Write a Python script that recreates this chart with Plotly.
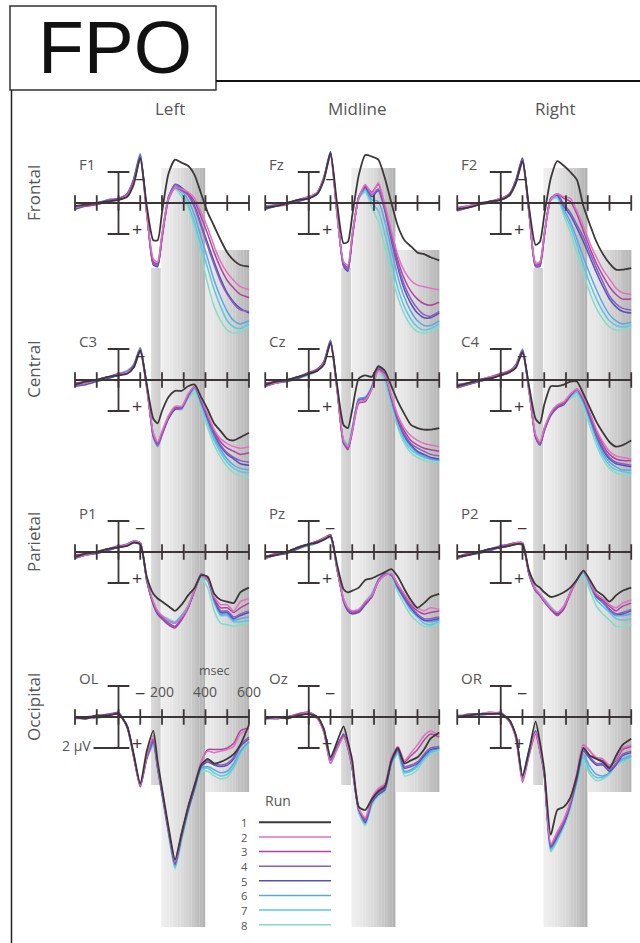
import plotly.graph_objects as go

W, H = 640, 943

# ---------------- data ----------------
T_MS = [-200, -150, -100, -50, 0, 40, 70, 100, 130, 160, 180, 200, 230, 260, 290,
        320, 350, 380, 410, 440, 470, 500, 530, 560, 600]
RUN_LABELS = ["1", "2", "3", "4", "5", "6", "7", "8"]
RUN_COLORS = ["#3d3838", "#e072c4", "#b0449c", "#8a5cc4", "#5450b8",
              "#5aa8e2", "#5cc6e6", "#84dcc6"]
COL_TITLES = ["Left", "Midline", "Right"]
ROW_TITLES = ["Frontal", "Central", "Parietal", "Occipital"]
ELECTRODES = [["F1", "Fz", "F2"], ["C3", "Cz", "C4"], ["P1", "Pz", "P2"], ["OL", "Oz", "OR"]]
TICK_MS = [-200, -100, 0, 100, 200, 300, 400, 500, 600]
TIME_LABELS = [200, 400, 600]
BAR_UV = 2

# amplitudes in microvolts (positive plotted downward), one list per run 1..8
F1 = [
    [0.2, 0.1, 0.0, -0.1, -0.2, -0.4, -1.2, -2.9, 0.2, 2.4, 2.4, 0.6, -1.9, -2.8, -2.6, -2.4, -1.8, -0.6, 0.6, 1.5, 2.4, 3.2, 3.7, 4.0, 4.1],
    [0.3, 0.1, 0.0, -0.1, -0.2, -0.5, -1.3, -2.8, 0.8, 3.6, 3.8, 2.0, -0.3, -1.0, -0.9, -0.7, -0.3, 0.6, 1.6, 2.8, 3.8, 4.5, 5.0, 5.4, 5.6],
    [0.2, 0.2, 0.1, -0.1, -0.3, -0.5, -1.4, -2.9, 0.7, 3.8, 3.9, 2.1, -0.2, -1.0, -0.8, -0.6, -0.1, 0.9, 2.0, 3.2, 4.2, 5.0, 5.5, 5.9, 6.1],
    [0.3, 0.2, 0.0, -0.2, -0.3, -0.6, -1.5, -3.0, 0.6, 3.9, 4.0, 2.2, -0.4, -1.2, -0.9, -0.5, 0.3, 1.5, 2.8, 4.0, 5.1, 5.9, 6.5, 6.9, 7.0],
    [0.4, 0.2, 0.1, -0.1, -0.2, -0.6, -1.5, -3.1, 0.5, 4.0, 4.1, 2.3, -0.3, -1.2, -1.0, -0.6, 0.2, 1.4, 2.6, 3.8, 4.9, 5.8, 6.4, 6.8, 7.1],
    [0.3, 0.2, 0.0, -0.2, -0.3, -0.6, -1.6, -3.2, 0.5, 3.9, 4.0, 2.2, -0.4, -1.1, -0.8, -0.2, 0.8, 2.2, 3.6, 5.0, 6.1, 7.0, 7.6, 7.8, 7.6],
    [0.2, 0.1, 0.0, -0.1, -0.3, -0.5, -1.5, -3.1, 0.6, 3.8, 4.0, 2.1, -0.4, -1.0, -0.6, 0.1, 1.3, 2.8, 4.2, 5.6, 6.7, 7.6, 8.0, 8.1, 7.8],
    [0.3, 0.2, 0.1, -0.1, -0.2, -0.5, -1.4, -3.0, 0.7, 3.7, 3.8, 2.0, -0.3, -0.9, -0.4, 0.3, 1.6, 3.4, 5.2, 6.7, 7.6, 8.2, 8.4, 8.3, 8.0],
]
FZ = [
    [0.3, 0.2, 0.0, -0.2, -0.3, -0.6, -1.5, -3.2, 0.0, 2.6, 2.5, 0.8, -1.8, -3.1, -3.0, -2.8, -1.6, 0.0, 1.5, 2.4, 2.8, 3.2, 3.3, 3.5, 3.7],
    [0.3, 0.2, 0.0, -0.2, -0.4, -0.7, -1.6, -3.0, 0.8, 3.8, 4.0, 2.0, -0.3, -1.2, -0.6, -1.3, 0.1, 1.8, 3.4, 4.4, 5.0, 5.3, 5.4, 5.5, 5.6],
    [0.2, 0.2, 0.1, -0.2, -0.4, -0.7, -1.7, -3.1, 0.7, 3.9, 4.2, 2.1, -0.3, -1.1, -0.7, -1.2, 0.2, 2.0, 3.7, 4.9, 5.7, 6.2, 6.5, 6.6, 6.4],
    [0.3, 0.1, 0.0, -0.2, -0.3, -0.7, -1.6, -3.2, 0.6, 4.0, 4.3, 2.2, -0.4, -1.1, -0.5, -0.9, 0.4, 2.2, 4.0, 5.3, 6.2, 6.8, 7.2, 7.3, 7.0],
    [0.4, 0.2, 0.0, -0.1, -0.3, -0.6, -1.6, -3.3, 0.5, 4.1, 4.4, 2.3, -0.4, -1.0, -0.4, -0.8, 0.5, 2.4, 4.2, 5.6, 6.5, 7.1, 7.4, 7.4, 7.1],
    [0.3, 0.2, 0.0, -0.2, -0.4, -0.7, -1.7, -3.3, 0.5, 4.0, 4.2, 2.2, -0.4, -0.9, -0.2, -0.1, 1.2, 3.0, 4.8, 6.1, 7.0, 7.6, 7.9, 7.9, 7.6],
    [0.2, 0.1, 0.0, -0.2, -0.3, -0.6, -1.6, -3.2, 0.6, 3.9, 4.1, 2.1, -0.3, -0.8, 0.0, 0.5, 2.0, 3.8, 5.5, 6.7, 7.5, 8.0, 8.2, 8.1, 7.8],
    [0.3, 0.2, 0.1, -0.1, -0.3, -0.6, -1.5, -3.1, 0.7, 3.8, 4.0, 2.0, -0.3, -0.7, 0.3, 1.2, 2.9, 4.6, 6.1, 7.2, 7.9, 8.3, 8.4, 8.3, 8.0],
]
F2 = [
    [0.4, 0.3, 0.1, -0.1, -0.2, -0.5, -1.3, -2.7, 0.3, 2.7, 2.5, 0.8, -1.6, -2.7, -2.4, -2.0, -1.5, 0.2, 1.4, 2.5, 3.3, 3.9, 4.3, 4.3, 4.2],
    [0.4, 0.2, 0.1, -0.1, -0.3, -0.5, -1.3, -2.6, 0.7, 3.9, 3.8, 2.0, -0.2, -0.6, -0.4, -0.3, 0.5, 1.5, 2.6, 3.5, 4.3, 4.9, 5.5, 5.8, 5.9],
    [0.3, 0.2, 0.0, -0.1, -0.3, -0.6, -1.4, -2.7, 0.6, 4.0, 3.9, 2.1, -0.2, -0.6, -0.3, -0.1, 0.7, 1.8, 2.9, 3.9, 4.7, 5.4, 5.9, 6.2, 6.2],
    [0.5, 0.3, 0.1, -0.1, -0.2, -0.6, -1.4, -2.8, 0.6, 4.1, 4.0, 2.1, -0.3, -0.6, 0.1, 0.6, 1.4, 2.2, 3.2, 4.2, 5.1, 6.0, 6.5, 6.8, 6.9],
    [0.5, 0.3, 0.1, 0.0, -0.2, -0.5, -1.5, -2.9, 0.5, 4.1, 4.1, 2.2, -0.3, -0.5, 0.2, 0.8, 1.6, 2.5, 3.5, 4.5, 5.4, 6.2, 6.7, 7.0, 7.1],
    [0.4, 0.2, 0.1, -0.1, -0.3, -0.6, -1.5, -2.9, 0.5, 4.0, 4.0, 2.1, -0.3, -0.5, 0.4, 1.2, 2.3, 3.5, 4.6, 5.6, 6.5, 7.2, 7.6, 7.8, 7.7],
    [0.3, 0.2, 0.0, -0.1, -0.2, -0.5, -1.4, -2.8, 0.6, 3.9, 3.9, 2.0, -0.2, -0.4, 0.6, 1.5, 2.7, 4.0, 5.2, 6.2, 7.0, 7.6, 7.9, 8.0, 7.9],
    [0.4, 0.3, 0.1, 0.0, -0.2, -0.5, -1.3, -2.7, 0.7, 3.8, 3.8, 1.9, -0.2, -0.3, 0.8, 1.9, 3.2, 4.6, 5.8, 6.8, 7.5, 8.0, 8.2, 8.2, 8.0],
]
C3 = [
    [0.3, 0.1, 0.0, -0.2, -0.3, -0.4, -0.8, -1.9, 0.3, 2.5, 2.8, 2.0, 1.1, 0.7, 0.7, 0.4, 0.3, 1.1, 1.9, 2.8, 3.3, 3.8, 3.9, 3.7, 3.4],
    [0.3, 0.2, 0.0, -0.2, -0.3, -0.5, -0.8, -1.8, 0.6, 3.4, 4.0, 3.3, 2.3, 1.7, 1.7, 0.9, 0.4, 1.2, 2.2, 3.2, 3.8, 4.1, 4.3, 4.4, 4.3],
    [0.2, 0.1, 0.0, -0.2, -0.3, -0.5, -0.9, -1.9, 0.5, 3.5, 4.1, 3.4, 2.4, 1.8, 1.8, 1.0, 0.4, 1.3, 2.3, 3.3, 4.0, 4.4, 4.6, 4.8, 4.7],
    [0.4, 0.2, 0.0, -0.2, -0.4, -0.5, -0.9, -2.0, 0.4, 3.6, 4.2, 3.5, 2.4, 1.8, 1.8, 1.0, 0.4, 1.3, 2.4, 3.4, 4.2, 4.7, 5.0, 5.2, 5.3],
    [0.4, 0.3, 0.1, -0.1, -0.3, -0.5, -0.9, -2.0, 0.4, 3.6, 4.2, 3.5, 2.5, 1.9, 1.8, 1.0, 0.4, 1.4, 2.5, 3.5, 4.3, 4.8, 5.1, 5.4, 5.5],
    [0.3, 0.2, 0.0, -0.2, -0.4, -0.6, -1.0, -2.1, 0.3, 3.7, 4.3, 3.6, 2.5, 1.9, 1.9, 1.1, 0.5, 1.5, 2.6, 3.7, 4.5, 5.1, 5.5, 5.7, 5.8],
    [0.3, 0.1, 0.0, -0.2, -0.3, -0.5, -1.0, -2.0, 0.3, 3.6, 4.2, 3.5, 2.4, 1.8, 1.8, 1.1, 0.6, 1.6, 2.8, 3.9, 4.7, 5.3, 5.7, 5.9, 6.0],
    [0.3, 0.2, 0.1, -0.1, -0.3, -0.5, -0.9, -1.9, 0.4, 3.5, 4.1, 3.4, 2.3, 1.7, 1.7, 1.2, 0.8, 1.9, 3.1, 4.2, 5.0, 5.6, 6.0, 6.2, 6.3],
]
CZ = [
    [0.3, 0.1, 0.0, -0.2, -0.4, -0.6, -1.0, -2.4, 0.3, 2.9, 3.1, 1.9, -0.1, -0.3, -0.2, -0.9, -0.6, 0.4, 1.4, 2.2, 2.9, 3.1, 3.2, 3.2, 3.1],
    [0.3, 0.2, 0.0, -0.2, -0.4, -0.6, -1.1, -2.3, 0.7, 3.9, 4.3, 3.3, 1.4, 1.3, 0.6, -0.6, -0.3, 1.0, 2.3, 3.1, 3.6, 3.9, 4.1, 4.2, 4.3],
    [0.2, 0.1, 0.0, -0.2, -0.4, -0.7, -1.1, -2.4, 0.6, 4.0, 4.5, 3.4, 1.5, 1.4, 0.6, -0.7, -0.3, 1.1, 2.5, 3.3, 3.9, 4.2, 4.4, 4.5, 4.6],
    [0.4, 0.2, 0.0, -0.2, -0.5, -0.7, -1.2, -2.5, 0.5, 4.0, 4.4, 3.3, 1.3, 1.2, 0.5, -0.8, -0.4, 1.2, 2.6, 3.5, 4.1, 4.4, 4.6, 4.8, 4.9],
    [0.4, 0.2, 0.1, -0.1, -0.4, -0.6, -1.2, -2.5, 0.5, 4.1, 4.4, 3.3, 1.3, 1.2, 0.5, -0.8, -0.4, 1.2, 2.6, 3.6, 4.2, 4.6, 4.8, 5.0, 5.1],
    [0.3, 0.2, 0.0, -0.2, -0.4, -0.7, -1.2, -2.6, 0.4, 4.0, 4.3, 3.2, 1.2, 1.1, 0.4, -0.9, -0.3, 1.3, 2.7, 3.7, 4.3, 4.7, 4.9, 5.1, 5.2],
    [0.3, 0.1, 0.0, -0.2, -0.4, -0.6, -1.1, -2.5, 0.5, 3.9, 4.2, 3.1, 1.2, 1.1, 0.5, -0.7, -0.1, 1.5, 2.9, 3.9, 4.5, 4.8, 5.0, 5.1, 5.2],
    [0.3, 0.2, 0.1, -0.1, -0.3, -0.6, -1.1, -2.4, 0.6, 3.8, 4.1, 3.0, 1.3, 1.2, 0.6, -0.5, 0.1, 1.7, 3.1, 4.1, 4.7, 5.0, 5.2, 5.3, 5.3],
]
C4 = [
    [0.4, 0.2, 0.0, -0.1, -0.3, -0.5, -0.8, -1.8, 0.4, 2.5, 2.8, 1.6, 0.4, 0.4, 0.3, 0.1, 0.1, 0.9, 1.8, 2.7, 3.4, 4.0, 4.3, 4.2, 3.9],
    [0.4, 0.2, 0.0, -0.2, -0.3, -0.5, -0.9, -1.7, 0.8, 3.5, 4.0, 3.1, 2.1, 1.6, 1.4, 0.9, 0.6, 1.1, 2.1, 3.2, 4.0, 4.6, 4.9, 5.0, 5.1],
    [0.3, 0.2, 0.0, -0.2, -0.4, -0.6, -0.9, -1.8, 0.7, 3.6, 4.1, 3.2, 2.2, 1.7, 1.5, 1.0, 0.6, 1.2, 2.2, 3.3, 4.2, 4.8, 5.1, 5.2, 5.2],
    [0.5, 0.3, 0.1, -0.1, -0.3, -0.5, -0.9, -1.9, 0.6, 3.7, 4.2, 3.3, 2.2, 1.7, 1.5, 1.0, 0.6, 1.2, 2.3, 3.5, 4.4, 5.0, 5.3, 5.4, 5.5],
    [0.5, 0.3, 0.1, -0.1, -0.3, -0.5, -1.0, -1.9, 0.6, 3.7, 4.2, 3.3, 2.3, 1.8, 1.6, 1.0, 0.6, 1.3, 2.4, 3.6, 4.5, 5.1, 5.4, 5.5, 5.6],
    [0.4, 0.2, 0.0, -0.2, -0.4, -0.6, -1.0, -2.0, 0.5, 3.6, 4.1, 3.2, 2.2, 1.7, 1.5, 1.0, 0.7, 1.4, 2.5, 3.7, 4.7, 5.3, 5.6, 5.8, 5.8],
    [0.4, 0.2, 0.1, -0.1, -0.3, -0.5, -0.9, -1.9, 0.6, 3.6, 4.1, 3.2, 2.2, 1.7, 1.5, 1.1, 0.8, 1.5, 2.7, 3.9, 4.9, 5.5, 5.8, 5.9, 6.0],
    [0.3, 0.2, 0.1, -0.1, -0.3, -0.5, -0.9, -1.8, 0.7, 3.5, 4.0, 3.1, 2.1, 1.6, 1.5, 1.2, 1.0, 1.8, 3.0, 4.2, 5.1, 5.7, 6.0, 6.1, 6.1],
]
P1 = [
    [0.3, 0.1, 0.0, -0.2, -0.3, -0.4, -0.6, -0.5, 1.6, 2.7, 3.0, 3.2, 3.5, 3.8, 3.4, 2.8, 2.3, 1.5, 1.6, 2.7, 3.1, 3.2, 3.3, 2.6, 2.3],
    [0.3, 0.2, 0.0, -0.2, -0.3, -0.5, -0.7, -0.6, 1.7, 3.2, 3.8, 4.1, 4.4, 4.6, 4.2, 3.5, 2.4, 1.5, 1.8, 2.9, 3.4, 3.4, 3.8, 3.2, 3.0],
    [0.2, 0.1, 0.0, -0.2, -0.3, -0.5, -0.7, -0.6, 1.8, 3.3, 3.9, 4.3, 4.7, 4.9, 4.4, 3.6, 2.5, 1.5, 1.8, 3.0, 3.6, 3.6, 3.9, 3.6, 3.3],
    [0.4, 0.2, 0.0, -0.2, -0.4, -0.5, -0.7, -0.5, 1.8, 3.3, 3.9, 4.2, 4.6, 4.8, 4.3, 3.6, 2.4, 1.4, 1.7, 3.0, 3.8, 3.8, 4.2, 4.0, 3.8],
    [0.4, 0.2, 0.1, -0.1, -0.3, -0.5, -0.7, -0.6, 1.8, 3.4, 4.0, 4.3, 4.6, 4.8, 4.3, 3.6, 2.5, 1.5, 1.7, 3.1, 3.9, 3.9, 4.3, 4.1, 3.9],
    [0.3, 0.2, 0.0, -0.2, -0.3, -0.5, -0.7, -0.6, 1.9, 3.4, 4.0, 4.3, 4.5, 4.6, 4.1, 3.5, 2.4, 1.5, 1.8, 3.1, 4.0, 4.0, 4.4, 4.3, 4.2],
    [0.3, 0.1, 0.0, -0.2, -0.3, -0.4, -0.6, -0.5, 1.9, 3.3, 3.9, 4.2, 4.4, 4.5, 4.1, 3.5, 2.4, 1.6, 1.9, 3.3, 4.1, 4.1, 4.5, 4.5, 4.4],
    [0.3, 0.2, 0.1, -0.1, -0.3, -0.4, -0.6, -0.5, 1.8, 3.3, 3.8, 4.1, 4.3, 4.5, 4.1, 3.4, 2.4, 1.7, 2.3, 3.8, 4.6, 4.7, 4.8, 4.7, 4.6],
]
PZ = [
    [0.3, 0.2, 0.0, -0.3, -0.5, -0.6, -0.8, -1.0, 0.8, 2.4, 2.6, 2.5, 2.3, 1.8, 1.7, 1.5, 1.3, 1.1, 1.6, 2.4, 3.1, 3.6, 3.3, 2.9, 2.7],
    [0.3, 0.2, 0.0, -0.3, -0.5, -0.6, -0.9, -1.0, 1.1, 3.0, 3.6, 3.8, 3.7, 3.2, 2.8, 1.9, 1.5, 1.4, 2.1, 2.7, 3.3, 3.6, 3.8, 3.6, 3.7],
    [0.3, 0.1, 0.0, -0.3, -0.5, -0.7, -0.9, -1.1, 1.1, 3.1, 3.7, 3.9, 3.8, 3.3, 2.9, 1.9, 1.5, 1.4, 2.1, 2.8, 3.4, 3.8, 4.0, 3.9, 3.8],
    [0.4, 0.2, 0.0, -0.3, -0.5, -0.7, -0.9, -1.1, 1.0, 3.1, 3.7, 3.9, 3.8, 3.3, 2.8, 1.8, 1.4, 1.5, 2.2, 2.9, 3.5, 4.0, 4.3, 4.3, 4.2],
    [0.4, 0.2, 0.1, -0.2, -0.5, -0.7, -0.9, -1.1, 1.0, 3.2, 3.8, 4.0, 3.9, 3.4, 2.9, 1.9, 1.4, 1.5, 2.3, 3.0, 3.6, 4.1, 4.4, 4.4, 4.3],
    [0.3, 0.2, 0.0, -0.3, -0.5, -0.7, -0.9, -1.0, 1.1, 3.1, 3.7, 3.9, 3.8, 3.3, 2.8, 1.8, 1.4, 1.5, 2.3, 3.0, 3.7, 4.1, 4.4, 4.5, 4.4],
    [0.3, 0.1, 0.0, -0.3, -0.4, -0.6, -0.8, -1.0, 1.1, 3.0, 3.6, 3.8, 3.7, 3.2, 2.7, 1.8, 1.3, 1.5, 2.4, 3.1, 3.8, 4.2, 4.6, 4.7, 4.5],
    [0.3, 0.2, 0.0, -0.2, -0.4, -0.6, -0.8, -0.9, 1.2, 3.0, 3.6, 3.8, 3.7, 3.2, 2.7, 1.8, 1.3, 1.6, 2.6, 3.4, 4.1, 4.5, 4.8, 4.8, 4.6],
]
P2 = [
    [0.3, 0.2, 0.0, -0.2, -0.3, -0.4, -0.5, -0.5, 1.2, 2.1, 2.3, 2.6, 2.9, 2.8, 2.6, 2.3, 1.8, 1.2, 1.8, 2.5, 2.8, 3.2, 2.8, 2.5, 2.3],
    [0.3, 0.2, 0.0, -0.2, -0.3, -0.4, -0.6, -0.6, 1.3, 2.4, 2.7, 3.1, 3.6, 3.9, 3.5, 2.6, 1.8, 1.2, 2.0, 2.7, 3.0, 3.4, 3.6, 3.3, 3.1],
    [0.3, 0.1, 0.0, -0.2, -0.3, -0.5, -0.6, -0.6, 1.4, 2.4, 2.8, 3.2, 3.7, 4.1, 3.7, 2.7, 1.8, 1.2, 2.0, 2.8, 3.1, 3.5, 3.8, 3.5, 3.3],
    [0.4, 0.2, 0.0, -0.2, -0.4, -0.5, -0.6, -0.5, 1.4, 2.5, 2.8, 3.2, 3.7, 4.1, 3.6, 2.6, 1.8, 1.2, 2.0, 2.8, 3.2, 3.7, 4.0, 3.9, 3.7],
    [0.4, 0.2, 0.1, -0.1, -0.3, -0.4, -0.6, -0.5, 1.4, 2.5, 2.8, 3.2, 3.7, 4.0, 3.6, 2.6, 1.8, 1.2, 2.0, 2.9, 3.2, 3.7, 4.0, 4.0, 3.8],
    [0.3, 0.2, 0.0, -0.2, -0.3, -0.5, -0.6, -0.5, 1.5, 2.5, 2.8, 3.1, 3.6, 4.0, 3.5, 2.6, 1.8, 1.3, 2.1, 2.9, 3.3, 3.8, 4.1, 4.1, 4.0],
    [0.3, 0.1, 0.0, -0.2, -0.3, -0.4, -0.5, -0.5, 1.4, 2.4, 2.7, 3.1, 3.6, 3.9, 3.5, 2.6, 1.8, 1.3, 2.2, 3.1, 3.5, 3.9, 4.3, 4.4, 4.3],
    [0.3, 0.2, 0.0, -0.1, -0.3, -0.4, -0.5, -0.4, 1.4, 2.4, 2.7, 3.0, 3.5, 3.9, 3.5, 2.6, 1.9, 1.5, 2.5, 3.5, 4.0, 4.4, 4.8, 4.8, 4.7],
]
OL = [
    [0.0, 0.1, -0.1, -0.1, -0.2, 0.6, 2.4, 4.3, 2.2, 0.9, 2.9, 4.6, 7.1, 9.2, 7.5, 5.8, 4.4, 3.1, 2.7, 3.0, 2.9, 2.7, 2.4, 1.8, 0.5],
    [0.0, 0.1, 0.0, -0.1, -0.2, 0.6, 2.5, 4.4, 2.5, 1.2, 3.1, 4.7, 7.2, 9.3, 7.5, 5.8, 4.3, 2.9, 2.2, 2.3, 2.2, 2.1, 1.9, 1.1, 0.8],
    [0.1, 0.0, -0.1, -0.1, -0.3, 0.7, 2.6, 4.5, 2.6, 1.4, 3.2, 4.8, 7.3, 9.4, 7.6, 5.9, 4.4, 2.9, 2.1, 2.1, 2.1, 2.0, 1.7, 0.9, 0.7],
    [0.1, 0.1, 0.0, -0.2, -0.2, 0.6, 2.5, 4.4, 2.6, 1.5, 3.2, 4.8, 7.3, 9.4, 7.6, 5.9, 4.5, 3.1, 2.8, 3.0, 3.1, 3.0, 2.6, 1.8, 1.3],
    [0.0, 0.1, 0.0, -0.1, -0.2, 0.6, 2.5, 4.4, 2.6, 1.6, 3.3, 4.9, 7.4, 9.5, 7.7, 6.0, 4.6, 3.2, 2.9, 3.1, 3.2, 3.1, 2.7, 1.9, 1.4],
    [0.1, 0.0, 0.0, -0.1, -0.2, 0.7, 2.6, 4.5, 2.7, 1.7, 3.3, 4.9, 7.4, 9.6, 7.8, 6.1, 4.6, 3.3, 3.2, 3.4, 3.6, 3.5, 3.0, 2.2, 1.6],
    [0.0, 0.1, 0.0, -0.1, -0.3, 0.6, 2.5, 4.4, 2.7, 1.8, 3.4, 5.0, 7.5, 9.7, 7.9, 6.1, 4.7, 3.4, 3.3, 3.6, 3.8, 3.7, 3.2, 2.3, 1.6],
    [0.1, 0.0, 0.1, -0.1, -0.2, 0.6, 2.4, 4.3, 2.6, 1.8, 3.4, 5.0, 7.6, 9.8, 8.0, 6.2, 4.7, 3.5, 3.5, 3.8, 4.0, 3.9, 3.3, 2.4, 1.7],
]
OZ = [
    [0.1, 0.0, 0.1, -0.1, -0.2, 0.0, 0.8, 2.6, 1.6, 0.6, 1.6, 2.8, 5.8, 6.0, 5.3, 4.8, 4.5, 2.8, 2.0, 3.0, 2.8, 2.6, 2.1, 1.4, 1.0],
    [0.1, 0.1, 0.0, -0.1, -0.3, 0.1, 1.0, 3.0, 2.1, 1.3, 1.9, 3.2, 5.9, 6.5, 5.2, 4.6, 4.3, 2.6, 1.9, 2.8, 2.3, 1.8, 1.2, 0.9, 1.2],
    [0.0, 0.1, 0.0, -0.2, -0.3, 0.1, 1.0, 3.0, 2.0, 1.2, 1.9, 3.3, 6.0, 6.6, 5.3, 4.7, 4.4, 2.7, 2.0, 2.9, 2.5, 2.1, 1.5, 1.1, 1.3],
    [0.1, 0.0, 0.1, -0.1, -0.2, 0.1, 0.9, 2.8, 2.0, 1.2, 2.0, 3.3, 6.0, 6.7, 5.4, 4.9, 4.6, 2.9, 2.1, 3.2, 3.1, 2.9, 2.4, 2.0, 1.9],
    [0.1, 0.1, 0.0, -0.1, -0.3, 0.0, 0.9, 2.8, 1.9, 1.1, 1.9, 3.2, 5.9, 6.8, 5.5, 5.0, 4.7, 2.9, 2.1, 3.3, 3.2, 3.0, 2.5, 2.1, 2.0],
    [0.0, 0.1, 0.0, -0.2, -0.3, 0.1, 0.9, 2.7, 1.9, 1.2, 2.0, 3.3, 6.0, 6.8, 5.5, 5.0, 4.7, 3.0, 2.2, 3.5, 3.4, 3.1, 2.6, 2.2, 2.0],
    [0.1, 0.0, 0.0, -0.1, -0.2, 0.1, 0.8, 2.6, 1.8, 1.2, 2.0, 3.3, 6.1, 6.9, 5.6, 5.0, 4.7, 3.0, 2.3, 3.6, 3.5, 3.2, 2.7, 2.3, 2.1],
    [0.1, 0.1, 0.0, -0.1, -0.2, 0.1, 0.8, 2.5, 1.8, 1.3, 2.1, 3.4, 6.2, 7.0, 5.7, 5.1, 4.8, 3.1, 2.4, 3.8, 3.7, 3.4, 2.8, 2.4, 2.2],
]
OR_ = [
    [0.0, -0.1, -0.2, -0.2, -0.2, 0.2, 1.2, 3.8, 2.2, 0.3, 1.6, 3.4, 7.6, 6.0, 5.8, 5.2, 3.8, 2.0, 2.5, 2.7, 2.9, 3.3, 2.5, 1.8, 1.4],
    [0.0, -0.1, -0.2, -0.3, -0.2, 0.3, 1.4, 4.1, 2.4, 1.0, 2.1, 3.6, 8.2, 7.4, 6.6, 5.4, 3.6, 1.8, 2.2, 2.6, 2.7, 3.1, 2.7, 2.0, 1.8],
    [-0.1, -0.1, -0.2, -0.2, -0.3, 0.3, 1.4, 4.2, 2.5, 1.1, 2.2, 3.7, 8.3, 7.5, 6.7, 5.5, 3.7, 1.8, 2.2, 2.7, 2.8, 3.2, 2.8, 2.1, 1.9],
    [0.0, -0.2, -0.2, -0.3, -0.2, 0.2, 1.3, 4.0, 2.3, 0.9, 2.1, 3.6, 8.3, 7.6, 6.8, 5.6, 3.9, 2.1, 2.6, 3.0, 3.0, 3.4, 3.0, 2.4, 2.2],
    [0.0, -0.1, -0.2, -0.2, -0.2, 0.2, 1.3, 3.9, 2.2, 0.9, 2.1, 3.6, 8.4, 7.7, 6.9, 5.7, 4.0, 2.2, 2.7, 3.1, 3.1, 3.5, 3.1, 2.5, 2.3],
    [0.0, -0.1, -0.1, -0.2, -0.2, 0.2, 1.2, 3.9, 2.2, 0.9, 2.1, 3.6, 8.5, 7.8, 6.9, 5.7, 4.1, 2.4, 3.2, 3.7, 3.8, 3.6, 3.0, 2.7, 2.5],
    [-0.1, -0.1, -0.2, -0.2, -0.2, 0.2, 1.2, 3.8, 2.1, 0.9, 2.1, 3.7, 8.6, 7.9, 7.0, 5.8, 4.2, 2.6, 3.5, 3.9, 3.9, 3.6, 3.0, 2.8, 2.6],
    [0.0, -0.1, -0.1, -0.2, -0.2, 0.2, 1.2, 3.8, 2.1, 1.0, 2.2, 3.8, 8.7, 8.0, 7.1, 5.9, 4.3, 2.8, 3.7, 4.1, 4.0, 3.7, 3.1, 2.9, 2.7],
]
PANEL_DATA = [[F1, FZ, F2], [C3, CZ, C4], [P1, PZ, P2], [OL, OZ, OR_]]

# ---------------- geometry & style ----------------
PX_PER_MS = 0.2175
PX_PER_UV = 15.5
COL_ZERO_PX = [118.5, 308.75, 500.75]
ROW_BASE_PX = [203, 380, 552, 717]
COL_TITLE_PX = [170, 357, 555]
X_RANGE = [-215, 615]
Y_RANGE = [10.5, -4.5]  # negative up
AXIS_COLOR = "#3d3535"
TEXT_COLOR = "#555555"
FONT = "Open Sans, Noto Sans, sans-serif"

# shaded analysis windows (ms), vertical pixel extent, gray level left->right
BANDS = [
    (150, 193, 268, 785, 212, 194, 1.0),
    (197, 398, 168, 927, 238, 176, 1.5),
    (398, 600, 250, 792, 234, 178, 1.5),
]
N_SLICES = 16


def px_x(p):
    return p / W


def px_y(p):
    return 1 - p / H


def ann(**kw):
    base = dict(showarrow=False, xanchor="center", yanchor="middle")
    base.update(kw)
    return base


fig = go.Figure()
layout = {}
annotations = []
shapes = []

for r in range(4):
    for c in range(3):
        idx = r * 3 + c + 1
        xa = "xaxis" if idx == 1 else f"xaxis{idx}"
        ya = "yaxis" if idx == 1 else f"yaxis{idx}"
        xr = "x" if idx == 1 else f"x{idx}"
        yr = "y" if idx == 1 else f"y{idx}"
        z = COL_ZERO_PX[c]
        b = ROW_BASE_PX[r]
        layout[xa] = dict(domain=[px_x(z + X_RANGE[0] * PX_PER_MS), px_x(z + X_RANGE[1] * PX_PER_MS)],
                          range=X_RANGE, visible=False, anchor=yr, fixedrange=True)
        layout[ya] = dict(domain=[px_y(b + Y_RANGE[0] * PX_PER_UV), px_y(b + Y_RANGE[1] * PX_PER_UV)],
                          range=Y_RANGE, visible=False, anchor=xr, fixedrange=True)
        runs = PANEL_DATA[r][c]
        for k in range(7, -1, -1):
            fig.add_trace(go.Scatter(
                x=T_MS, y=runs[k], xaxis=xr, yaxis=yr, mode="lines",
                line=dict(color=RUN_COLORS[k], width=1.8 if k == 0 else 1.5,
                          shape="spline", smoothing=0.6),
                showlegend=False, hoverinfo="skip"))
        # time axis with ticks
        ax_x, ax_y = [TICK_MS[0], TICK_MS[-1], None], [0, 0, None]
        for t in TICK_MS:
            ax_x += [t, t, None]
            ax_y += [-0.5, 0.5, None]
        fig.add_trace(go.Scatter(x=ax_x, y=ax_y, xaxis=xr, yaxis=yr, mode="lines",
                                 line=dict(color=AXIS_COLOR, width=1.8),
                                 showlegend=False, hoverinfo="skip"))
        # voltage scale bar (the calibrated panel gets a longer lower arm for its label)
        low_left = -115 if (r == 3 and c == 0) else -50
        fig.add_trace(go.Scatter(
            x=[0, 0, None, -50, 50, None, low_left, 50],
            y=[-BAR_UV, BAR_UV, None, -BAR_UV, -BAR_UV, None, BAR_UV, BAR_UV],
            xaxis=xr, yaxis=yr, mode="lines", line=dict(color=AXIS_COLOR, width=1.8),
            showlegend=False, hoverinfo="skip"))
        annotations.append(ann(x=99, y=-1.55, xref=xr, yref=yr, text="\u2212",
                               font=dict(size=18, color=AXIS_COLOR, family=FONT)))
        annotations.append(ann(x=86, y=1.7, xref=xr, yref=yr, text="+",
                               font=dict(size=18, color=AXIS_COLOR, family=FONT)))
        annotations.append(ann(x=-192, y=-2.5, xref=xr, yref=yr, text=ELECTRODES[r][c],
                               xanchor="left", font=dict(size=15, color=TEXT_COLOR, family=FONT)))
        if r == 3 and c == 0:
            for t in TIME_LABELS:
                annotations.append(ann(x=t, y=-1.65, xref=xr, yref=yr, text=str(t),
                                       font=dict(size=14, color=TEXT_COLOR, family=FONT)))
            annotations.append(ann(x=440, y=-3.0, xref=xr, yref=yr, text="msec",
                                   font=dict(size=12.5, color=TEXT_COLOR, family=FONT)))
            annotations.append(ann(x=-117, y=BAR_UV - 0.15, xref=xr, yref=yr, text="2 \u03bcV",
                                   xanchor="right", font=dict(size=14, color=TEXT_COLOR, family=FONT)))

# shaded bands, per column, using the column's time axis
for c in range(3):
    xr = "x" if c == 0 else f"x{c + 1}"
    for (t0, t1, ytop, ybot, g0, g1, pw) in BANDS:
        for j in range(N_SLICES):
            s = (j + 0.5) / N_SLICES
            g = int(round(g0 + (g1 - g0) * s ** pw))
            shapes.append(dict(type="rect", xref=xr, yref="paper",
                               x0=t0 + (t1 - t0) * j / N_SLICES,
                               x1=t0 + (t1 - t0) * (j + 1) / N_SLICES + 0.6,
                               y0=px_y(ybot), y1=px_y(ytop),
                               fillcolor=f"rgb({g},{g},{g})", line=dict(width=0), layer="below"))

# frame: FPO box, top rule, left rule
shapes.append(dict(type="rect", xref="paper", yref="paper", x0=px_x(10), x1=px_x(216),
                   y0=px_y(90), y1=px_y(6), line=dict(color="#333333", width=1.5)))
shapes.append(dict(type="line", xref="paper", yref="paper", x0=px_x(216), x1=1,
                   y0=px_y(81), y1=px_y(81), line=dict(color="#111111", width=2)))
shapes.append(dict(type="line", xref="paper", yref="paper", x0=px_x(11.5), x1=px_x(11.5),
                   y0=px_y(90), y1=0, line=dict(color="#222222", width=1.5)))
annotations.append(ann(x=px_x(115), y=px_y(47), xref="paper", yref="paper", text="FPO",
                       font=dict(size=75, color="#111111", family="Liberation Sans, Arial, sans-serif")))

for c, title in enumerate(COL_TITLES):
    annotations.append(ann(x=px_x(COL_TITLE_PX[c]), y=px_y(108), xref="paper", yref="paper",
                           text=title, font=dict(size=17, color=TEXT_COLOR, family=FONT)))
for r, title in enumerate(ROW_TITLES):
    annotations.append(ann(x=px_x(33), y=px_y(ROW_BASE_PX[r] - 10), xref="paper", yref="paper",
                           text=title, textangle=-90,
                           font=dict(size=17, color=TEXT_COLOR, family=FONT)))

# custom legend
layout["xaxis13"] = dict(domain=[px_x(259), px_x(331)], range=[0, 1], visible=False,
                         anchor="y13", fixedrange=True)
layout["yaxis13"] = dict(domain=[px_y(932), px_y(815)], range=[8.5, 0.5], visible=False,
                         anchor="x13", fixedrange=True)
for k, lab in enumerate(RUN_LABELS):
    fig.add_trace(go.Scatter(x=[0, 1], y=[k + 1, k + 1], xaxis="x13", yaxis="y13", mode="lines",
                             line=dict(color=RUN_COLORS[k], width=2 if k == 0 else 1.6),
                             showlegend=False, hoverinfo="skip"))
annotations.append(ann(x=px_x(244), y=4.5, xref="paper", yref="y13", text="<br>".join(RUN_LABELS),
                       font=dict(size=11.3, color=TEXT_COLOR, family=FONT)))
annotations.append(ann(x=px_x(278), y=px_y(800), xref="paper", yref="paper", text="Run",
                       font=dict(size=14, color=TEXT_COLOR, family=FONT)))

fig.update_layout(
    width=W, height=H, margin=dict(l=0, r=0, t=0, b=0),
    paper_bgcolor="white", plot_bgcolor="rgba(0,0,0,0)",
    showlegend=False, hovermode=False,
    shapes=shapes, annotations=annotations, **layout)

fig.write_html("out.html", config={"displayModeBar": False},
               post_script="document.body.style.margin='0';document.body.style.overflow='hidden';")
